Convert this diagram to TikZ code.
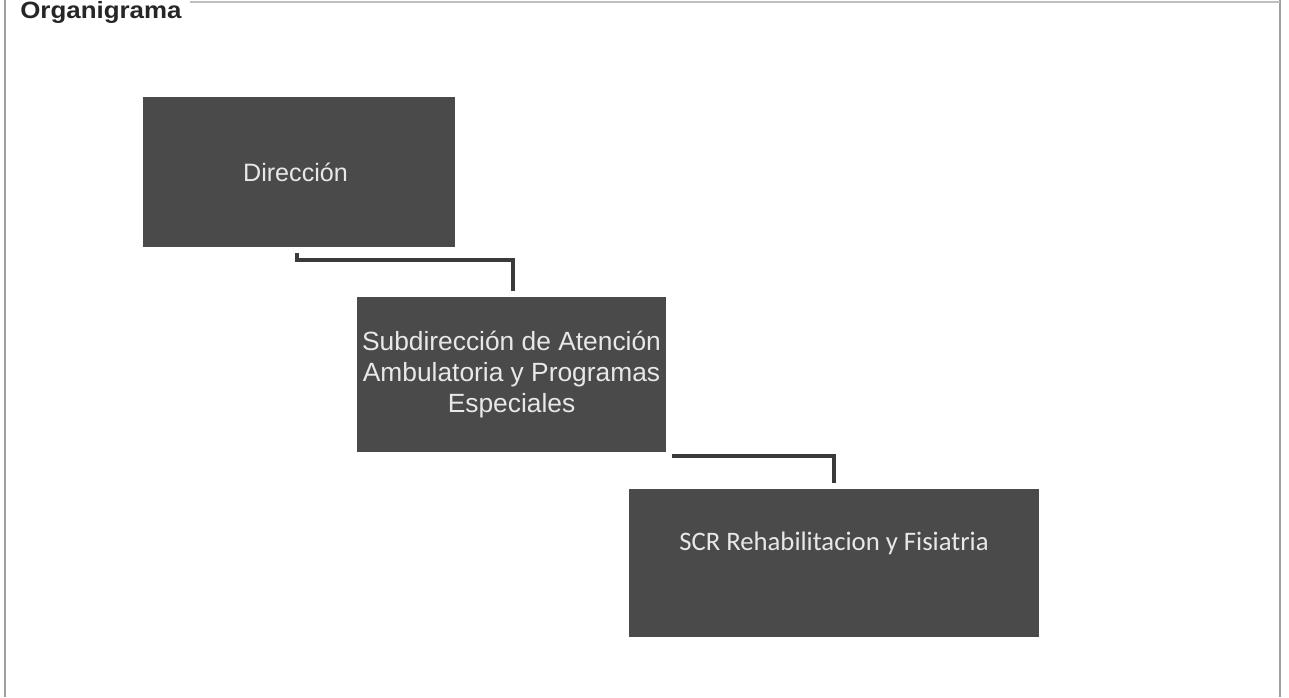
\documentclass[tikz,border=0pt]{standalone}
\usepackage{fontspec}
\usepackage{graphicx}
\setmainfont{Liberation Sans}
\newfontfamily\calibrifont{Carlito}
\definecolor{caixa}{HTML}{4A4A4A}
\definecolor{letra}{HTML}{E8E8E8}
\definecolor{linha}{HTML}{3A3A3A}
\tikzset{
	caixa/.style={shape=rectangle, draw=none, fill=caixa, text=letra, align=center, inner sep=0pt},
	ligacao/.style={draw=linha, line width=2.2pt},
	moldura/.style={draw=gray!75, line width=0.8pt}
}
\begin{document}
\begin{tikzpicture}[x=0.02cm, y=-0.02cm]
			\useasboundingbox[fill=white] (0,0) rectangle (1289,697);
			
			% moldura da pagina
			\draw[moldura] (5,0) -- (5,697);
			\draw[moldura] (1280,0) -- (1280,697);
			\draw[moldura, draw=gray!50] (190,2) -- (1280,2);
			
			\node (t1)[anchor=base west, inner sep=0pt, font=\fontsize{13.4pt}{15pt}\selectfont\bfseries, text=black!85] 
			at (20,18){
				\scalebox{1.1}[1]{Organigrama}
			};
			
			\node (z1)[caixa, minimum width=6.24cm, minimum height=3.0cm, font=\fontsize{14.3pt}{17.9pt}\selectfont] 
			at (299,172){
				Dirección
			}; 
			
			\node (z2)[caixa, minimum width=6.18cm, minimum height=3.1cm, font=\fontsize{15pt}{17.9pt}\selectfont] 
			at (511.5,374.5){
				Subdirección de Atención \\ Ambulatoria y Programas \\ Especiales
			}; 
			
			\node (z3)[caixa, minimum width=8.2cm, minimum height=2.96cm] 
			at (834,563) {};
			
			\node (z3t)[text=letra, font=\calibrifont\fontsize{15.2pt}{18pt}\selectfont] 
			at ([yshift=0.4cm]z3.center) {
				SCR Rehabilitacion y Fisiatria
			};
			
			\coordinate (c1) at ([xshift=-0.04cm, yshift=-0.12cm]z1.south);
			\coordinate (e1) at ([xshift=0.03cm, yshift=0.12cm]z2.north);
			\coordinate (c2) at ([xshift=0.12cm, yshift=-0.08cm]z2.south east);
			\coordinate (e2) at ([yshift=0.12cm]z3.north);
			
			\draw[ligacao] (c1) -- ++(0,7) -| (e1);
			\draw[ligacao] (c2) -| (e2);
		\end{tikzpicture}
\end{document}
